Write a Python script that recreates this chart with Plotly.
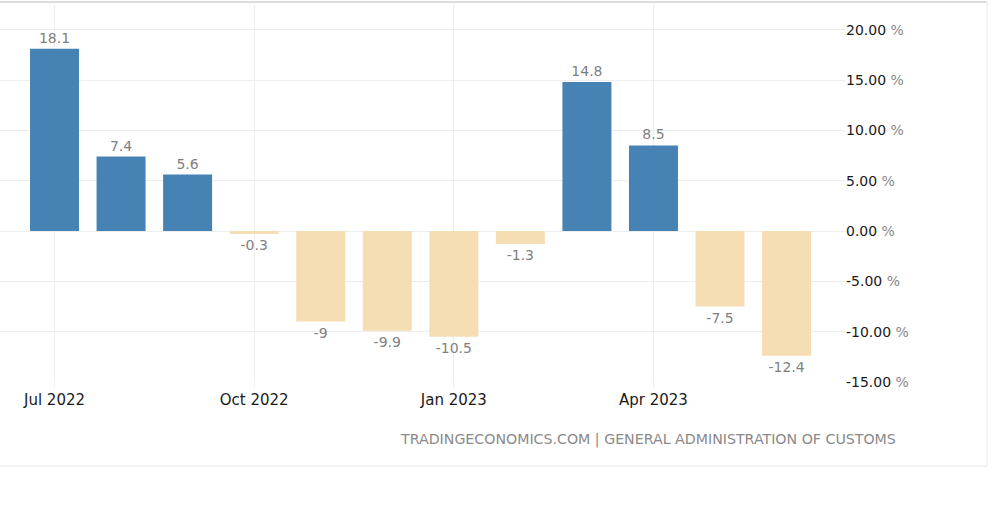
import plotly.graph_objects as go

months = ["Jul 2022", "Aug 2022", "Sep 2022", "Oct 2022", "Nov 2022", "Dec 2022",
          "Jan 2023", "Feb 2023", "Mar 2023", "Apr 2023", "May 2023", "Jun 2023"]
values = [18.1, 7.4, 5.6, -0.3, -9, -9.9, -10.5, -1.3, 14.8, 8.5, -7.5, -12.4]
x_ticks = ["Jul 2022", "Oct 2022", "Jan 2023", "Apr 2023"]
y_ticks = [20, 15, 10, 5, 0, -5, -10, -15]
source_text = "TRADINGECONOMICS.COM | GENERAL ADMINISTRATION OF CUSTOMS"

POS = "#4682B4"
NEG = "#F5DEB3"
colors = [POS if v >= 0 else NEG for v in values]
labels = [f"{v:g}" for v in values]
y_ticktext = [f"{v:.2f}<span style='color:#888'> %</span>" for v in y_ticks]

fig = go.Figure(go.Bar(
    x=months, y=values, marker=dict(color=colors, line=dict(width=0)),
    text=labels, textposition="outside", cliponaxis=False,
    textfont=dict(family="DejaVu Sans", size=14, color="#808080"),
    width=0.736,
))

W, H = 1000, 525
L, R, T, B = 0, 155, 5, 143
pw = W - L - R
ph = H - T - B

fig.update_layout(
    width=W, height=H,
    margin=dict(l=L, r=R, t=T, b=B),
    paper_bgcolor="white", plot_bgcolor="white",
    showlegend=False,
    xaxis=dict(
        type="category", range=[-0.819, 11.878],
        tickmode="array", tickvals=x_ticks, ticktext=x_ticks,
        showgrid=True, gridcolor="#ededed", gridwidth=1,
        ticks="outside", ticklen=4, tickcolor="#ededed",
        tickfont=dict(family="DejaVu Sans", size=15, color="#1a1a1a"),
        showline=False, zeroline=False,
    ),
    yaxis=dict(
        side="right", range=[-15, 22.45],
        tickmode="array", tickvals=y_ticks, ticktext=y_ticktext,
        showgrid=True, gridcolor="#ededed", gridwidth=1,
        zeroline=False, showline=False, ticks="",
        tickfont=dict(family="DejaVu Sans", size=14, color="#1a1a1a"),
    ),
    font=dict(family="DejaVu Sans"),
)

def px_x(px):
    return (px - L) / pw

def px_y(py):
    return (H - B - py) / ph

fig.add_shape(type="line", xref="paper", yref="paper",
              x0=px_x(-5), x1=px_x(987), y0=px_y(2), y1=px_y(2),
              line=dict(color="#dcdcdc", width=2))
fig.add_shape(type="line", xref="paper", yref="paper",
              x0=px_x(987), x1=px_x(987), y0=px_y(2), y1=px_y(466),
              line=dict(color="#e8e8e8", width=1))
fig.add_shape(type="line", xref="paper", yref="paper",
              x0=px_x(-5), x1=px_x(987), y0=px_y(466), y1=px_y(466),
              line=dict(color="#e8e8e8", width=1))

fig.add_annotation(text=source_text, xref="paper", yref="paper",
                   x=px_x(898), y=px_y(440), xanchor="right", yanchor="middle",
                   showarrow=False,
                   font=dict(family="DejaVu Sans", size=14.2, color="#8a8a8a"))

fig.write_html("out.html", config={"displayModeBar": False},
               post_script="document.body.style.margin='0';document.body.style.overflow='hidden';")
